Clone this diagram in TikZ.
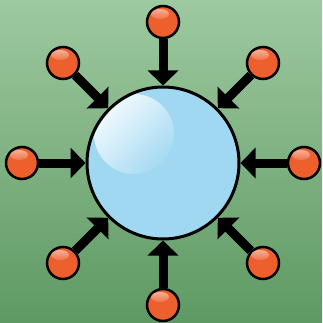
\documentclass[tikz,border=0pt]{standalone}
\usetikzlibrary{arrows.meta,fadings,shadings}
\definecolor{bgtop}{HTML}{9EC9A0}
\definecolor{bgbot}{HTML}{5E9963}
\definecolor{ballc}{HTML}{EE5F2E}
\definecolor{bluec}{HTML}{A0D8F2}
\tikzset{
  hub/.style={circle, draw=black, line width=3pt, fill=bluec, minimum size=152pt, inner sep=0pt},
  ballnode/.style={circle, draw=black, line width=2.5pt, fill=ballc, minimum size=32pt, inner sep=0pt},
  pusharrow/.style={line width=9pt, line cap=butt, -{Triangle[width=30pt,length=15pt]}},
}
\begin{tikzfadingfrompicture}[name=hlfade]
  \fill[left color=transparent!0, right color=transparent!100] (-1,-1) rectangle (1,1);
\end{tikzfadingfrompicture}
\begin{document}
\begin{tikzpicture}[x=1pt,y=-1pt]
\shade[top color=bgtop, bottom color=bgbot] (0,0) rectangle (322,323);
\useasboundingbox (0,0) rectangle (322,323);
\node[hub] (c) at (163,163) {};
\node[ballnode] (b1) at (163,22) {};
\node[ballnode] (b2) at (263,63) {};
\node[ballnode] (b3) at (304,163) {};
\node[ballnode] (b4) at (263,263) {};
\node[ballnode] (b5) at (163,305) {};
\node[ballnode] (b6) at (63,263) {};
\node[ballnode] (b7) at (22,163) {};
\node[ballnode] (b8) at (63,63) {};
\foreach \i in {1,...,8} {
  \draw[pusharrow] (b\i) -- (c);
}
% small highlights on the balls
\foreach \n in {b1,b2,b3,b4,b5,b6,b7,b8} {
  \fill[white, path fading=south, fill opacity=0.5] (\n.center) ++(-3,-8) ellipse [x radius=9pt, y radius=5pt];
}
% highlight on hub
\begin{scope}
  \clip (c.center) circle [radius=74pt];
  \fill[white, path fading=hlfade, fit fading=true, fading transform={rotate=-45}, fill opacity=0.95]
    (134,134) circle [radius=40pt];
\end{scope}
\end{tikzpicture}
\end{document}
